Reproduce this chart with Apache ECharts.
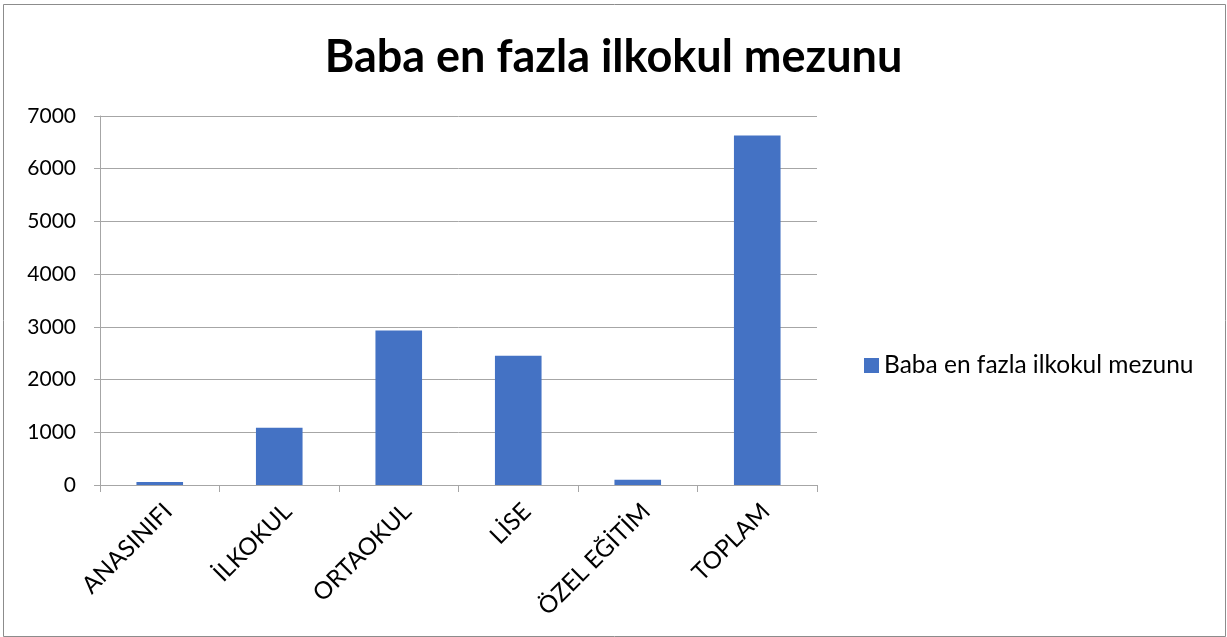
<!DOCTYPE html>
<html>
<head>
<meta charset="utf-8">
<script src="https://cdn.jsdelivr.net/npm/echarts@6/dist/echarts.min.js"></script>
<style>
  html, body { margin: 0; padding: 0; background: #fff; }
  #main { width: 1227px; height: 637px; }
</style>
</head>
<body>
<div id="main"></div>
<script>
// veriler
var categories = ["ANASINIFI", "İLKOKUL", "ORTAOKUL", "LİSE", "ÖZEL EĞİTİM", "TOPLAM"];
var values = [58, 1088, 2932, 2450, 98, 6630];
var seriesName = "Baba en fazla ilkokul mezunu";

var myChart = echarts.init(document.getElementById("main"));

var fontFam = "Lato, 'Open Sans', sans-serif";

var option = {
  backgroundColor: "#fff",
  animation: false,
  color: ["#4472C4"],
  title: {
    text: "Baba en fazla ilkokul mezunu",
    left: "center",
    top: 30,
    textStyle: {
      fontFamily: fontFam,
      fontSize: 45,
      fontWeight: "bold",
      color: "#000"
    }
  },
  graphic: [{
    type: "rect",
    left: 1, top: 2,
    shape: { width: 1222, height: 632 },
    style: { fill: "none", stroke: "#8c8c8c", lineWidth: 1 }
  }],
  legend: {
    orient: "vertical",
    left: 859,
    top: 348,
    itemWidth: 15,
    itemHeight: 15,
    itemGap: 6,
    icon: "rect",
    textStyle: { fontFamily: fontFam, fontSize: 24.5, color: "#000" },
    data: [seriesName]
  },
  grid: {
    left: 100,
    right: 410,
    top: 116,
    bottom: 152,
    containLabel: false
  },
  xAxis: {
    type: "category",
    data: categories,
    axisLine: { lineStyle: { color: "#a6a6a6", width: 1 } },
    axisTick: { show: true, alignWithLabel: false, length: 7, lineStyle: { color: "#a6a6a6" } },
    axisLabel: {
      rotate: 45,
      interval: 0,
      margin: 14,
      verticalAlign: "top",
      fontFamily: fontFam,
      fontSize: 24,
      color: "#000"
    }
  },
  yAxis: {
    type: "value",
    min: 0,
    max: 7000,
    interval: 1000,
    axisLine: { show: true, lineStyle: { color: "#a6a6a6" } },
    axisTick: { show: true, length: 6, lineStyle: { color: "#a6a6a6" } },
    splitLine: { lineStyle: { color: "#a6a6a6", width: 1 } },
    axisLabel: {
      margin: 24,
      fontFamily: fontFam,
      fontSize: 21,
      color: "#000",
      formatter: function (v) { return String(v); }
    }
  },
  series: [{
    name: seriesName,
    type: "bar",
    data: values,
    barCategoryGap: "61%",
    itemStyle: { color: "#4472C4" }
  }]
};

myChart.setOption(option);
</script>
</body>
</html>
